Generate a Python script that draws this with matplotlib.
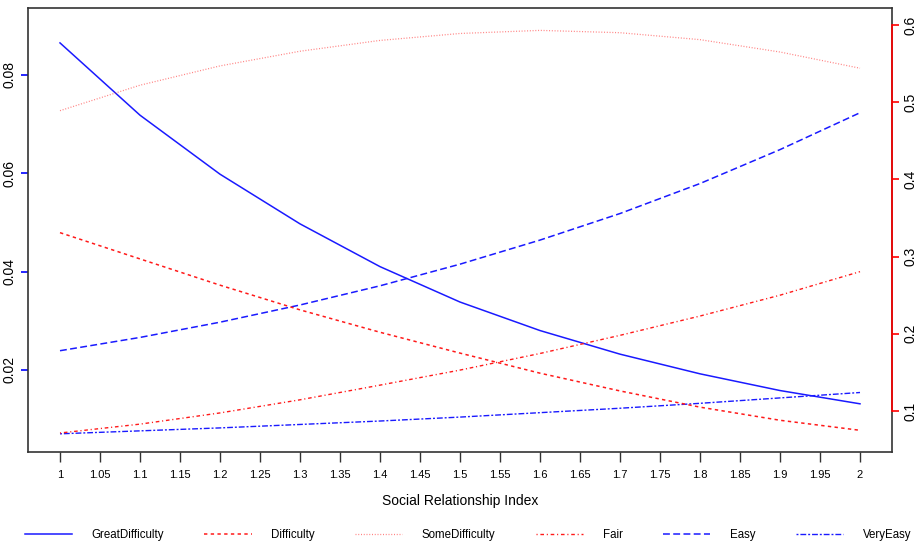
import numpy as np
import matplotlib.pyplot as plt
from matplotlib.lines import Line2D

plt.rcParams['font.family'] = ['Liberation Sans', 'DejaVu Sans']

#data
sri = [1.0, 1.1, 1.2, 1.3, 1.4, 1.5, 1.6, 1.7, 1.8, 1.9, 2.0]

#left axis (blue)
great_difficulty = [0.0865, 0.0718, 0.0598, 0.0497, 0.0410, 0.0338, 0.0280, 0.0232, 0.0192, 0.0158, 0.0131]
easy = [0.0239, 0.0266, 0.0297, 0.0332, 0.0371, 0.0415, 0.0464, 0.0518, 0.0579, 0.0648, 0.0723]
very_easy = [0.0070, 0.0076, 0.0082, 0.0089, 0.0096, 0.0104, 0.0113, 0.0122, 0.0132, 0.0143, 0.0154]

#right axis (red)
difficulty = [0.331, 0.297, 0.263, 0.231, 0.202, 0.175, 0.149, 0.126, 0.105, 0.088, 0.075]
some_difficulty = [0.489, 0.522, 0.547, 0.566, 0.580, 0.589, 0.593, 0.590, 0.581, 0.565, 0.544]
fair = [0.0715, 0.083, 0.0975, 0.1145, 0.1335, 0.153, 0.1745, 0.198, 0.223, 0.250, 0.2805]

x_ticks = [1.0, 1.05, 1.1, 1.15, 1.2, 1.25, 1.3, 1.35, 1.4, 1.45, 1.5,
           1.55, 1.6, 1.65, 1.7, 1.75, 1.8, 1.85, 1.9, 1.95, 2.0]
x_labels = ['1', '1.05', '1.1', '1.15', '1.2', '1.25', '1.3', '1.35', '1.4', '1.45', '1.5',
            '1.55', '1.6', '1.65', '1.7', '1.75', '1.8', '1.85', '1.9', '1.95', '2']
left_ticks = [0.02, 0.04, 0.06, 0.08]
left_labels = ['0.02', '0.04', '0.06', '0.08']
right_ticks = [0.1, 0.2, 0.3, 0.4, 0.5, 0.6]
right_labels = ['0.1', '0.2', '0.3', '0.4', '0.5', '0.6']

#line styles (R lty 1..6)
BLUE = '#1a1aff'
RED = '#ff1a1a'
styles = {
    'GreatDifficulty': dict(color=BLUE, ls='-', lw=1.1),
    'Difficulty': dict(color=RED, ls=(0, (2.2, 2.2)), lw=1.1),
    'SomeDifficulty': dict(color=RED, ls=(0, (0.8, 1.4)), lw=0.9, alpha=0.55),
    'Fair': dict(color=RED, ls=(0, (0.8, 2.0, 2.6, 2.0)), lw=1.0),
    'Easy': dict(color=BLUE, ls=(0, (4.5, 2.2)), lw=1.1),
    'VeryEasy': dict(color=BLUE, ls=(0, (1.4, 1.4, 4.2, 1.4)), lw=1.0),
}

fig = plt.figure(figsize=(9.21, 5.46), dpi=100)
ax = fig.add_axes([28 / 921, 94 / 546, 864 / 921, 444 / 546])
ax2 = ax.twinx()

ax.plot(sri, great_difficulty, **styles['GreatDifficulty'])
ax.plot(sri, easy, **styles['Easy'])
ax.plot(sri, very_easy, **styles['VeryEasy'])
ax2.plot(sri, difficulty, **styles['Difficulty'])
ax2.plot(sri, some_difficulty, **styles['SomeDifficulty'])
ax2.plot(sri, fair, **styles['Fair'])

ax.set_xlim(0.96, 2.04)
ax.set_ylim(0.0033, 0.0936)
ax2.set_ylim(0.0469, 0.622)

#box
for s in ax.spines.values():
    s.set_color('#333333')
    s.set_linewidth(1.2)
for s in ['top', 'left', 'bottom']:
    ax2.spines[s].set_visible(False)
ax2.spines['right'].set_color('red')
ax2.spines['right'].set_linewidth(1.2)
ax2.spines['right'].set_bounds(0.1, 0.6)

ax.set_xticks(x_ticks)
ax.set_xticklabels(x_labels, fontsize=8)
ax.tick_params(axis='x', length=7, width=1, color='#333333', pad=6)

ax.set_yticks(left_ticks)
ax.set_yticklabels(left_labels, fontsize=10, rotation=90, va='center')
ax.tick_params(axis='y', length=5, width=1.2, color='blue', pad=3)

ax2.set_yticks(right_ticks)
ax2.set_yticklabels(right_labels, fontsize=10, rotation=90, va='center')
ax2.tick_params(axis='y', length=5, width=1.2, color='red', pad=3)

ax.set_xlabel('Social Relationship Index', fontsize=10, va='center')
ax.xaxis.set_label_coords(0.5, -0.110)

#legend along the bottom
names = ['GreatDifficulty', 'Difficulty', 'SomeDifficulty', 'Fair', 'Easy', 'VeryEasy']
handles = [Line2D([], [], **styles[n]) for n in names]
fig.legend(handles, names, loc='center', bbox_to_anchor=(0.508, 1 - 535 / 546),
           ncol=6, frameon=False, fontsize=8.3, handlelength=4.1,
           handletextpad=1.7, columnspacing=3.5)

plt.savefig('out.png', dpi=100)
